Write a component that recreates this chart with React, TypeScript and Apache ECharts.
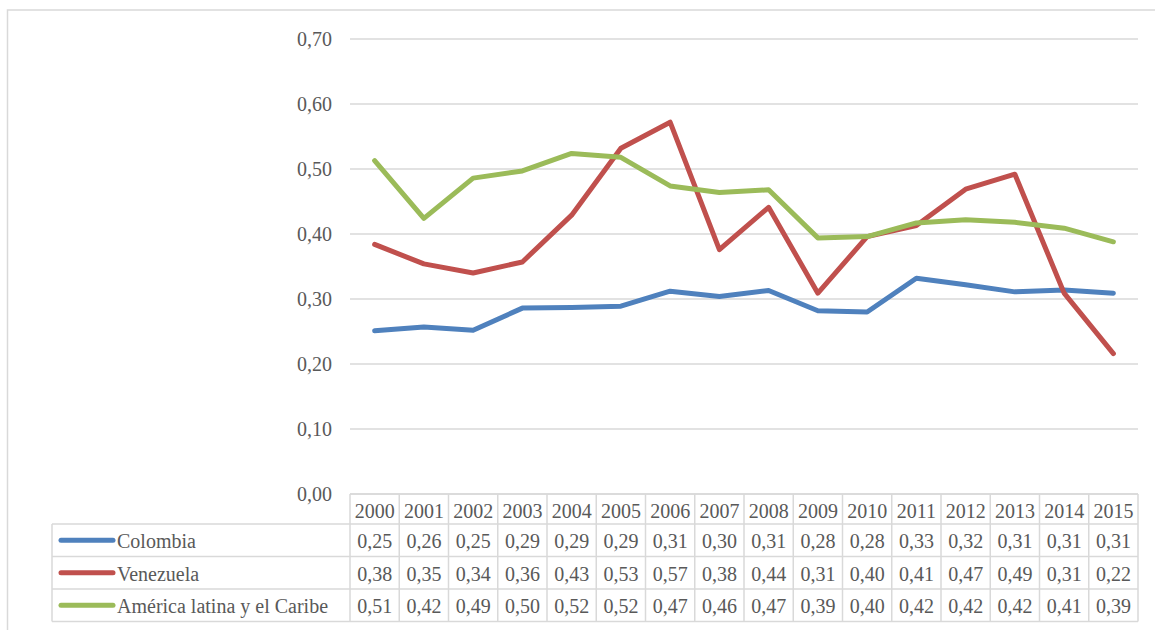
import React, { useEffect, useRef } from "react";
import * as echarts from "echarts";

const years = ["2000", "2001", "2002", "2003", "2004", "2005", "2006", "2007", "2008", "2009", "2010", "2011", "2012", "2013", "2014", "2015"];
const colombia = [0.251, 0.257, 0.252, 0.286, 0.287, 0.289, 0.312, 0.304, 0.313, 0.282, 0.280, 0.332, 0.322, 0.311, 0.314, 0.309];
const venezuela = [0.384, 0.354, 0.340, 0.357, 0.429, 0.532, 0.572, 0.376, 0.441, 0.309, 0.396, 0.413, 0.469, 0.492, 0.309, 0.216];
const america = [0.513, 0.424, 0.486, 0.497, 0.524, 0.518, 0.474, 0.464, 0.468, 0.394, 0.396, 0.417, 0.422, 0.418, 0.409, 0.388];
const seriesNames = ["Colombia", "Venezuela", "América latina y el Caribe"];
const seriesColors = ["#4F81BD", "#C0504D", "#9BBB59"];
const yTicks = { min: 0, max: 0.7, interval: 0.1 };

const FONT = "\"Liberation Serif\", \"DejaVu Serif\", serif";
const TEXT = "#595959";
const GRID = "#d9d9d9";

const fmt = (v: number) => v.toFixed(2).replace(".", ",");

export default function App() {
  const ref = useRef<HTMLDivElement>(null);
  useEffect(() => {
    if (!ref.current) return;
    const chart = echarts.init(ref.current, null, { renderer: "svg" });
    const allData = [colombia, venezuela, america];
    const gridLeft = 350;
    const gridRight = 17;
    const gridTop = 39;
    const gridBottom = 136;
    chart.setOption({
      animation: false,
      textStyle: { fontFamily: FONT },
      grid: { left: gridLeft, right: gridRight, top: gridTop, bottom: gridBottom, containLabel: false },
      xAxis: {
        type: "category",
        data: years,
        axisLine: { show: false },
        axisTick: { show: false },
        axisLabel: { margin: 7, fontFamily: FONT, fontSize: 20, color: TEXT, interval: 0 },
      },
      yAxis: {
        type: "value",
        min: yTicks.min,
        max: yTicks.max,
        interval: yTicks.interval,
        axisLine: { show: false },
        axisTick: { show: false },
        axisLabel: { formatter: fmt, margin: 18, fontFamily: FONT, fontSize: 20, color: TEXT },
        splitLine: { lineStyle: { color: GRID, width: 1.5 } },
      },
      series: allData.map((d, i) => ({
        name: seriesNames[i],
        type: "line",
        data: d,
        symbol: "none",
        lineStyle: { width: 5, color: seriesColors[i], cap: "round", join: "round" },
        itemStyle: { color: seriesColors[i] },
      })),
    });

    const W = 1155;
    const H = 630;
    const plotRight = W - gridRight;
    const y0 = H - gridBottom;
    const xs = years.map((_, i) => chart.convertToPixel({ xAxisIndex: 0 }, i) as number);
    const cw = (plotRight - gridLeft) / years.length;
    const headerBottom = 524;
    const rowH = 32.5;
    const tableBottom = headerBottom + rowH * 3;
    const labelLeft = 52;
    const line = (x1: number, y1: number, x2: number, y2: number) => ({
      type: "line",
      shape: { x1, y1, x2, y2 },
      style: { stroke: GRID, lineWidth: 1.5 },
      silent: true,
    });
    const els: any[] = [];
    els.push({
      type: "rect",
      shape: { x: 7.5, y: 10, width: W + 20, height: H + 20 },
      style: { fill: "none", stroke: GRID, lineWidth: 1.5 },
      silent: true,
    });
    els.push(line(gridLeft, y0, plotRight, y0));
    for (let i = 0; i <= years.length; i++) {
      const x = i < years.length ? xs[i] - cw / 2 : xs[years.length - 1] + cw / 2;
      els.push(line(x, y0, x, tableBottom));
    }
    for (let r = 0; r <= 3; r++) {
      const y = headerBottom + r * rowH;
      els.push(line(labelLeft, y, plotRight, y));
    }
    els.push(line(labelLeft, headerBottom, labelLeft, tableBottom));
    const txt = (text: string, x: number, y: number, align: string) => ({
      type: "text",
      x,
      y,
      style: {
        text,
        fontFamily: FONT,
        fontSize: 20,
        fill: TEXT,
        align,
        verticalAlign: "middle",
      },
      silent: true,
    });
    allData.forEach((d, r) => {
      const cy = headerBottom + r * rowH + rowH / 2;
      els.push({
        type: "line",
        shape: { x1: 61, y1: cy, x2: 113, y2: cy },
        style: { stroke: seriesColors[r], lineWidth: 5, lineCap: "round" },
        silent: true,
      });
      els.push(txt(seriesNames[r], 117, cy + 1, "left"));
      d.forEach((v, i) => {
        els.push(txt(fmt(v), xs[i], cy + 1, "center"));
      });
    });
    chart.setOption({ graphic: els });
    return () => chart.dispose();
  }, []);
  return (
    <div
      ref={ref}
      style={{ position: "absolute", left: 0, top: 0, width: 1155, height: 630, background: "#fff" }}
    />
  );
}
